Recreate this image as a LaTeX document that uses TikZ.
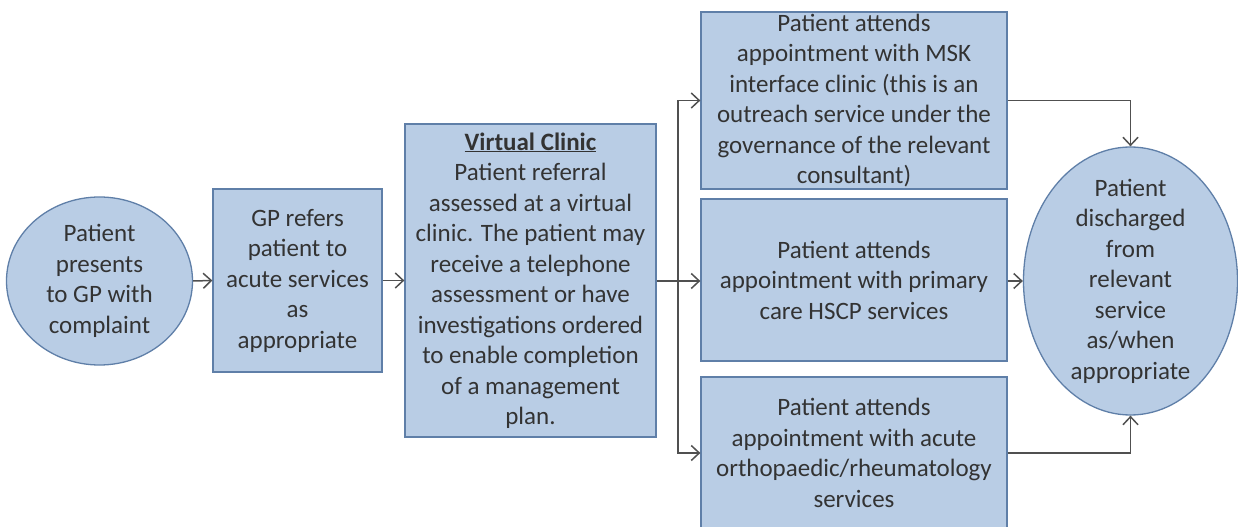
\documentclass[tikz,border=0pt]{standalone}
\usepackage{fontspec}
\setmainfont{Carlito}
\usetikzlibrary{arrows.meta,shapes.geometric}
\definecolor{boxfill}{HTML}{B9CDE5}
\definecolor{boxline}{HTML}{5F7FA8}
\definecolor{txt}{HTML}{333333}
\definecolor{conn}{HTML}{505050}
\begin{document}
\begin{tikzpicture}[x=1bp,y=-1bp,
  every node/.style={text=txt, font=\fontsize{25bp}{30.5bp}\selectfont, align=center},
  stepbox/.style={draw=boxline, fill=boxfill, line width=1.3bp, rectangle, inner sep=0pt},
  oval/.style={draw=boxline, fill=boxfill, line width=1.3bp, ellipse, inner sep=0pt},
  flow/.style={draw=conn, line width=1.5bp, -{Straight Barb[length=8bp,width=15bp,line width=1.5bp]}},
  link/.style={draw=conn, line width=1.5bp}]
\useasboundingbox (0,0) rectangle (1238,527);

% start and end ovals
\node[oval, minimum width=186bp, minimum height=168bp] (start) at (99.5,281) {};
\node at (start) {Patient\\presents\\to GP with\\complaint};

\node[oval, minimum width=214bp, minimum height=268bp] (done) at (1130.5,281) {};
\node at (done) {Patient\\discharged\\from\\relevant\\service\\as/when\\appropriate};

% process boxes
\node[stepbox, minimum width=169bp, minimum height=183bp] (gp) at (297.5,280.5)
  {GP refers\\patient to\\acute services\\as\\appropriate};
\node[stepbox, minimum width=251bp, minimum height=313bp] (vc) at (530.5,280.5)
  {\underline{\textbf{Virtual Clinic}}\\Patient referral\\assessed at a virtual\\clinic. The patient may\\receive a telephone\\assessment or have\\investigations ordered\\to enable completion\\of a management\\plan.};
\node[stepbox, minimum width=306bp, minimum height=177bp] (msk) at (854,100.5)
  {Patient attends\\appointment with MSK\\interface clinic (this is an\\outreach service under the\\governance of the relevant\\consultant)};
\node[stepbox, minimum width=306bp, minimum height=162bp] (prim) at (854,280)
  {Patient attends\\appointment with primary\\care HSCP services};
\node[stepbox, minimum width=306bp, minimum height=152bp] (acute) at (854,453)
  {Patient attends\\appointment with acute\\orthopaedic/rheumatology\\services};

% connectors
\draw[flow] (start.east) -- (gp.west);
\draw[flow] (gp.west -| gp.east) -- (vc.west |- gp.west);
\coordinate (split) at (678,281);
\draw[link] (vc.east |- split) -- (split);
\draw[flow] (split) |- (msk.west);
\draw[flow] (split) -- (prim.west |- split);
\draw[flow] (split) |- (acute.west);
\draw[flow] (msk.east) -| (done.north);
\draw[flow] (prim.east |- done.west) -- (done.west);
\draw[flow] (acute.east) -| (done.south);
\end{tikzpicture}
\end{document}
